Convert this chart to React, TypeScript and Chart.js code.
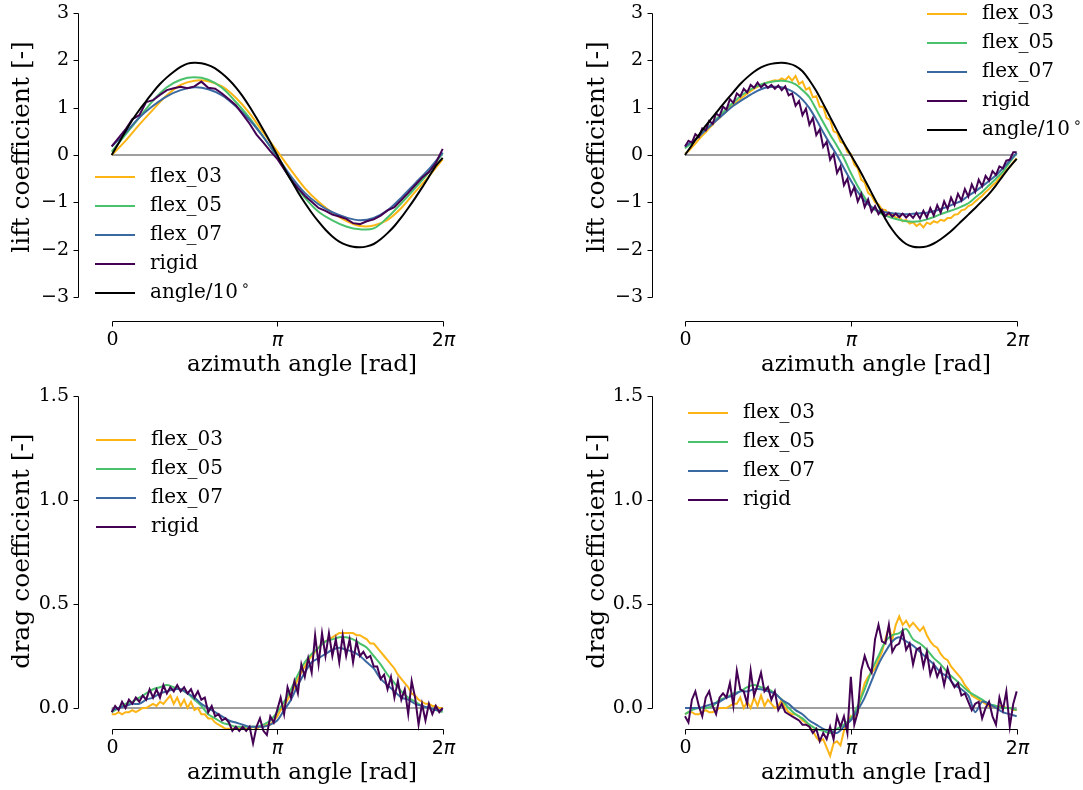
import React, { useEffect, useRef } from "react";
import { Chart, registerables } from "chart.js";

Chart.register(...registerables);

// ---------------- angle grids (degrees) ----------------
const DEG_15 = [0, 15, 30, 45, 60, 75, 90, 105, 120, 135, 150, 165, 180, 195, 210, 225, 240, 255, 270, 285, 300, 315, 330, 345, 360];
const DEG_7_5 = [0, 7.5, 15, 22.5, 30, 37.5, 45, 52.5, 60, 67.5, 75, 82.5, 90, 97.5, 105, 112.5, 120, 127.5, 135, 142.5, 150, 157.5, 165, 172.5, 180, 187.5, 195, 202.5, 210, 217.5, 225, 232.5, 240, 247.5, 255, 262.5, 270, 277.5, 285, 292.5, 300, 307.5, 315, 322.5, 330, 337.5, 345, 352.5, 360];
const DEG_3_75 = [0, 3.75, 7.5, 11.25, 15, 18.75, 22.5, 26.25, 30, 33.75, 37.5, 41.25, 45, 48.75, 52.5, 56.25, 60, 63.75, 67.5, 71.25, 75, 78.75, 82.5, 86.25, 90, 93.75, 97.5, 101.25, 105, 108.75, 112.5, 116.25, 120, 123.75, 127.5, 131.25, 135, 138.75, 142.5, 146.25, 150, 153.75, 157.5, 161.25, 165, 168.75, 172.5, 176.25, 180, 183.75, 187.5, 191.25, 195, 198.75, 202.5, 206.25, 210, 213.75, 217.5, 221.25, 225, 228.75, 232.5, 236.25, 240, 243.75, 247.5, 251.25, 255, 258.75, 262.5, 266.25, 270, 273.75, 277.5, 281.25, 285, 288.75, 292.5, 296.25, 300, 303.75, 307.5, 311.25, 315, 318.75, 322.5, 326.25, 330, 333.75, 337.5, 341.25, 345, 348.75, 352.5, 356.25, 360];
const ZERO_X = [0, 360];
const ZERO_Y = [0, 0];

// ---------------- ticks ----------------
const X_TICKS = [0, 180, 360];
const X_TICK_LABELS = ["0", "π", "2π"];
const LIFT_TICKS = [-3, -2, -1, 0, 1, 2, 3];
const LIFT_TICK_LABELS = ["−3", "−2", "−1", "0", "1", "2", "3"];
const DRAG_TICKS = [0, 0.5, 1.0, 1.5];
const DRAG_TICK_LABELS = ["0.0", "0.5", "1.0", "1.5"];

// ---------------- top-left: lift ----------------
const TL_FLEX03 = [0.00, 0.30, 0.64, 0.96, 1.26, 1.48, 1.57, 1.56, 1.45, 1.21, 0.88, 0.47, 0.08, -0.32, -0.70, -0.99, -1.22, -1.39, -1.50, -1.49, -1.37, -1.12, -0.78, -0.45, -0.09];
const TL_FLEX05 = [0.07, 0.43, 0.79, 1.15, 1.43, 1.59, 1.64, 1.59, 1.42, 1.12, 0.78, 0.38, -0.05, -0.52, -0.90, -1.20, -1.38, -1.51, -1.57, -1.55, -1.32, -1.02, -0.70, -0.36, 0.04];
const TL_FLEX07 = [0.18, 0.47, 0.79, 1.04, 1.24, 1.37, 1.43, 1.39, 1.26, 1.03, 0.74, 0.38, -0.03, -0.45, -0.80, -1.04, -1.21, -1.32, -1.38, -1.33, -1.17, -0.90, -0.60, -0.30, 0.05];
const TL_RIGID = [0.18, 0.36, 0.54, 0.76, 0.84, 1.12, 1.16, 1.27, 1.37, 1.41, 1.44, 1.41, 1.45, 1.55, 1.42, 1.40, 1.30, 1.18, 1.05, 0.86, 0.66, 0.43, 0.26, 0.08, -0.08, -0.30, -0.52, -0.70, -0.86, -0.99, -1.12, -1.18, -1.26, -1.30, -1.35, -1.44, -1.46, -1.40, -1.36, -1.28, -1.17, -1.10, -0.95, -0.80, -0.64, -0.48, -0.36, -0.17, 0.13];
const TL_ANGLE = [0, 0.25, 0.50, 0.74, 0.95, 1.14, 1.33, 1.50, 1.64, 1.76, 1.86, 1.93, 1.95, 1.94, 1.90, 1.83, 1.72, 1.59, 1.43, 1.24, 1.02, 0.78, 0.53, 0.27, 0.00, -0.27, -0.53, -0.78, -1.01, -1.22, -1.41, -1.58, -1.72, -1.83, -1.90, -1.94, -1.95, -1.93, -1.88, -1.78, -1.65, -1.50, -1.32, -1.12, -0.91, -0.69, -0.46, -0.23, -0.06];

// ---------------- top-right: lift ----------------
const TR_FLEX03 = [0.03, 0.08, 0.16, 0.24, 0.33, 0.41, 0.48, 0.57, 0.64, 0.73,
  0.78, 0.87, 0.92, 1.00, 1.06, 1.12, 1.19, 1.24, 1.30, 1.35,
  1.40, 1.44, 1.48, 1.51, 1.54, 1.56, 1.58, 1.57, 1.62, 1.58,
  1.66, 1.57, 1.67, 1.50, 1.55, 1.38, 1.42, 1.22, 1.24, 1.02,
  1.02, 0.78, 0.74, 0.50, 0.47, 0.28, 0.24, 0.06, 0.02, -0.20,
  -0.28, -0.52, -0.58, -0.80, -0.86, -1.00, -1.04, -1.15, -1.16, -1.26,
  -1.25, -1.33, -1.31, -1.40, -1.37, -1.45, -1.42, -1.50, -1.45, -1.53,
  -1.43, -1.46, -1.40, -1.43, -1.37, -1.39, -1.33, -1.33, -1.26, -1.25,
  -1.17, -1.15, -1.08, -1.05, -0.98, -0.92, -0.86, -0.78, -0.72, -0.64,
  -0.58, -0.48, -0.42, -0.32, -0.25, -0.15, -0.07];
const TR_FLEX05 = [0.14, 0.26, 0.39, 0.54, 0.68, 0.83, 0.98, 1.11, 1.24, 1.34, 1.43, 1.49, 1.53, 1.56, 1.57, 1.55, 1.49, 1.37, 1.22, 0.96, 0.69, 0.43, 0.19, -0.07, -0.38, -0.66, -0.90, -1.10, -1.21, -1.28, -1.33, -1.37, -1.40, -1.41, -1.40, -1.36, -1.31, -1.25, -1.20, -1.15, -1.09, -1.02, -0.90, -0.78, -0.64, -0.50, -0.35, -0.15, 0.04];
const TR_FLEX07 = [0.18, 0.28, 0.39, 0.53, 0.66, 0.79, 0.92, 1.04, 1.14, 1.23, 1.32, 1.39, 1.43, 1.44, 1.43, 1.38, 1.30, 1.17, 0.99, 0.75, 0.48, 0.23, -0.01, -0.28, -0.54, -0.78, -0.97, -1.10, -1.18, -1.21, -1.23, -1.24, -1.25, -1.24, -1.23, -1.22, -1.19, -1.14, -1.09, -1.03, -0.97, -0.86, -0.77, -0.66, -0.55, -0.43, -0.28, -0.12, 0.04];
const TR_RIGID = [0.18, 0.30, 0.26, 0.44, 0.38, 0.56, 0.52, 0.72, 0.66, 0.88,
  0.82, 1.02, 0.96, 1.18, 1.10, 1.30, 1.24, 1.40, 1.32, 1.48,
  1.42, 1.53, 1.43, 1.50, 1.42, 1.48, 1.40, 1.47, 1.37, 1.45,
  1.26, 1.30, 1.04, 1.14, 0.84, 0.98, 0.64, 0.78, 0.42, 0.54,
  0.17, 0.28, -0.10, 0.02, -0.38, -0.24, -0.64, -0.50, -0.84, -0.68,
  -0.98, -0.82, -1.10, -0.94, -1.20, -1.08, -1.25, -1.16, -1.29, -1.22,
  -1.30, -1.24, -1.31, -1.24, -1.32, -1.25, -1.33, -1.22, -1.34, -1.18,
  -1.32, -1.12, -1.28, -1.06, -1.22, -0.98, -1.14, -0.90, -1.06, -0.82,
  -0.96, -0.72, -0.88, -0.62, -0.78, -0.52, -0.66, -0.44, -0.54, -0.34,
  -0.42, -0.24, -0.28, -0.12, -0.10, 0.06, 0.06];
const TR_ANGLE = [0.00, 0.21, 0.42, 0.62, 0.80, 0.98, 1.16, 1.33, 1.50, 1.64, 1.76, 1.85, 1.91, 1.94, 1.95, 1.93, 1.88, 1.77, 1.58, 1.35, 1.08, 0.80, 0.52, 0.25, 0.00, -0.25, -0.52, -0.80, -1.08, -1.35, -1.58, -1.76, -1.88, -1.94, -1.95, -1.93, -1.87, -1.78, -1.67, -1.54, -1.40, -1.26, -1.12, -0.97, -0.82, -0.64, -0.44, -0.25, -0.08];

// ---------------- bottom-left: drag ----------------
const BL_FLEX03 = [-0.03, -0.03, -0.02, -0.03, -0.02, -0.02, -0.01, -0.02, -0.01, 0.00,
  0.00, 0.01, 0.02, 0.01, 0.03, 0.02, 0.04, 0.06, 0.02, 0.05,
  0.01, 0.04, 0.00, 0.03, -0.01, 0.00, -0.03, -0.03, -0.05, -0.05,
  -0.07, -0.08, -0.09, -0.10, -0.10, -0.10, -0.10, -0.10, -0.09, -0.10,
  -0.10, -0.09, -0.10, -0.09, -0.09, -0.08, -0.08, -0.06, -0.04, -0.01,
  0.01, 0.04, 0.07, 0.10, 0.14, 0.17, 0.20, 0.23, 0.25, 0.27,
  0.29, 0.31, 0.32, 0.33, 0.34, 0.35, 0.36, 0.36, 0.36, 0.36,
  0.36, 0.35, 0.35, 0.34, 0.33, 0.31, 0.31, 0.29, 0.27, 0.25,
  0.23, 0.21, 0.19, 0.16, 0.14, 0.12, 0.10, 0.07, 0.06, 0.04,
  0.03, 0.02, 0.02, 0.01, 0.01, 0.00, 0.00];
const BL_FLEX05 = [-0.02, 0.00, 0.02, 0.03, 0.05, 0.07, 0.09, 0.10, 0.11, 0.10, 0.09, 0.07, 0.04, 0.01, -0.03, -0.05, -0.07, -0.08, -0.09, -0.09, -0.09, -0.09, -0.08, -0.06, -0.02, 0.03, 0.09, 0.16, 0.22, 0.26, 0.29, 0.32, 0.33, 0.34, 0.34, 0.33, 0.31, 0.29, 0.25, 0.21, 0.16, 0.12, 0.08, 0.05, 0.03, 0.01, 0.00, -0.01, -0.02];
const BL_FLEX07 = [-0.01, 0.00, 0.01, 0.02, 0.02, 0.04, 0.05, 0.07, 0.08, 0.09, 0.09, 0.07, 0.05, 0.02, 0.00, -0.02, -0.04, -0.06, -0.07, -0.08, -0.09, -0.09, -0.09, -0.08, -0.06, -0.01, 0.04, 0.11, 0.17, 0.22, 0.24, 0.26, 0.28, 0.29, 0.28, 0.27, 0.25, 0.22, 0.19, 0.14, 0.11, 0.08, 0.05, 0.04, 0.02, 0.01, 0.00, -0.01, -0.01];
const BL_RIGID = [-0.02, 0.01, -0.01, 0.03, 0.00, 0.04, 0.02, 0.05, 0.03, 0.06,
  0.04, 0.09, 0.05, 0.09, 0.05, 0.11, 0.07, 0.10, 0.08, 0.11,
  0.08, 0.10, 0.07, 0.09, 0.05, 0.08, 0.04, 0.05, -0.02, 0.01,
  -0.04, -0.03, -0.06, -0.05, -0.07, -0.11, -0.09, -0.11, -0.09, -0.11,
  -0.09, -0.17, -0.09, -0.05, -0.11, -0.13, -0.04, -0.07, -0.01, 0.05,
  -0.03, 0.10, 0.05, 0.13, 0.07, 0.21, 0.15, 0.24, 0.17, 0.35,
  0.21, 0.36, 0.25, 0.36, 0.25, 0.33, 0.22, 0.35, 0.25, 0.33,
  0.22, 0.32, 0.25, 0.27, 0.24, 0.25, 0.20, 0.20, 0.14, 0.16,
  0.09, 0.15, 0.05, 0.13, 0.04, 0.09, -0.03, 0.13, 0.05, -0.08,
  0.02, -0.06, 0.02, -0.03, 0.01, -0.02, 0.00];

// ---------------- bottom-right: drag ----------------
const BR_FLEX03 = [-0.03, -0.02, -0.02, -0.03, -0.03, -0.02, -0.01, -0.02, -0.02, -0.01,
  0.00, 0.00, 0.00, 0.01, 0.02, 0.02, 0.05, 0.00, 0.03, 0.00,
  0.05, 0.01, 0.06, 0.01, 0.04, 0.02, 0.00, 0.01, 0.04, 0.00,
  -0.02, -0.03, -0.03, -0.04, -0.06, -0.07, -0.09, -0.11, -0.14, -0.16,
  -0.15, -0.19, -0.23, -0.17, -0.16, -0.18, -0.11, -0.07, -0.04, -0.06,
  -0.02, 0.06, 0.12, 0.15, 0.17, 0.19, 0.23, 0.27, 0.33, 0.39,
  0.33, 0.40, 0.44, 0.40, 0.42, 0.39, 0.41, 0.39, 0.37, 0.39,
  0.35, 0.32, 0.30, 0.29, 0.26, 0.24, 0.23, 0.20, 0.18, 0.16,
  0.14, 0.11, 0.09, 0.06, 0.05, 0.04, 0.03, 0.02, 0.01, 0.01,
  0.00, 0.01, 0.01, 0.00, 0.00, -0.01, -0.01];
const BR_FLEX05 = [-0.03, -0.01, 0.00, 0.00, 0.01, 0.04, 0.05, 0.07, 0.08, 0.10, 0.11, 0.10, 0.09, 0.07, 0.04, 0.00, -0.03, -0.05, -0.08, -0.10, -0.11, -0.12, -0.10, -0.08, -0.05, 0.01, 0.09, 0.18, 0.25, 0.32, 0.35, 0.36, 0.38, 0.33, 0.31, 0.28, 0.24, 0.21, 0.17, 0.14, 0.11, 0.08, 0.06, 0.04, 0.02, 0.01, 0.00, 0.00, -0.01];
const BR_FLEX07 = [0.00, 0.00, 0.00, 0.01, 0.02, 0.03, 0.05, 0.06, 0.08, 0.08, 0.09, 0.09, 0.08, 0.07, 0.04, 0.02, -0.01, -0.03, -0.06, -0.08, -0.10, -0.11, -0.12, -0.09, -0.06, -0.01, 0.05, 0.13, 0.21, 0.27, 0.32, 0.34, 0.32, 0.30, 0.27, 0.24, 0.21, 0.17, 0.15, 0.11, 0.09, 0.06, -0.02, 0.03, 0.02, 0.00, -0.02, -0.03, -0.04];
const BR_RIGID = [-0.04, -0.07, 0.04, 0.08, 0.01, -0.04, 0.05, 0.08, 0.01, -0.03,
  0.05, 0.07, 0.05, 0.12, 0.01, 0.18, 0.09, 0.08, 0.02, 0.18,
  0.06, 0.11, 0.17, 0.08, 0.10, 0.04, 0.08, -0.01, 0.02, -0.02,
  -0.03, -0.04, -0.05, -0.06, -0.08, -0.08, -0.09, -0.12, -0.10, -0.16,
  -0.12, -0.15, -0.09, -0.15, -0.04, -0.09, -0.04, -0.12,
  0.15, -0.08, -0.02, 0.18, 0.25, 0.20, 0.17, 0.33, 0.40, 0.32,
  0.31, 0.40, 0.27, 0.30, 0.31, 0.37, 0.28, 0.31, 0.21, 0.28,
  0.29, 0.20, 0.27, 0.16, 0.21, 0.15, 0.19, 0.11, 0.19, 0.13,
  0.10, 0.12, 0.06, 0.07, 0.03, -0.01, 0.02, 0.03, -0.05, 0.00,
  0.03, -0.04, -0.08, 0.05, -0.01, 0.08, -0.09, 0.02, 0.08];

// ---------------- style ----------------
const C_FLEX03 = "#fdb515";
const C_FLEX05 = "#4ac26c";
const C_FLEX07 = "#3a68a0";
const C_RIGID = "#440154";
const C_ANGLE = "#000000";
const C_ZERO = "#7f7f7f";
const SERIF = '"DejaVu Serif", serif';
const SANS = '"DejaVu Sans", sans-serif';

type Series = { label: string; color: string; x: number[]; y: number[]; tension: number; width: number; legend: boolean };
const S = (label: string, color: string, x: number[], y: number[], tension = 0, width = 2, legend = true): Series =>
  ({ label, color, x, y, tension, width, legend });

type Panel = {
  key: string;
  area: { left: number; right: number; top: number; bottom: number };
  yMin: number; yMax: number;
  yTicks: number[]; yTickLabels: string[]; yTitle: string;
  ySpineOffset: number; xSpineOffset: number;
  yTitleX: number; yTitleY: number; xTitleX: number; xTitleY: number;
  legend: { x: number; y: number; step: number };
  series: Series[]; // in matplotlib plotting order (first = bottom)
};

const PANELS: Panel[] = [
  {
    key: "tl",
    area: { left: 111.7, right: 442.7, top: 13, bottom: 297 },
    yMin: -3, yMax: 3, yTicks: LIFT_TICKS, yTickLabels: LIFT_TICK_LABELS, yTitle: "lift coefficient [-]",
    ySpineOffset: 33.7, xSpineOffset: 24, yTitleX: 22, yTitleY: 147, xTitleX: 302, xTitleY: 365,
    legend: { x: 95, y: 177, step: 29 },
    series: [
      S("zero", C_ZERO, ZERO_X, ZERO_Y, 0, 1.5, false),
      S("flex_03", C_FLEX03, DEG_15, TL_FLEX03, 0.35),
      S("flex_05", C_FLEX05, DEG_15, TL_FLEX05, 0.35),
      S("flex_07", C_FLEX07, DEG_15, TL_FLEX07, 0.35),
      S("rigid", C_RIGID, DEG_7_5, TL_RIGID, 0),
      S("angle/10^∘", C_ANGLE, DEG_7_5, TL_ANGLE, 0.3),
    ],
  },
  {
    key: "tr",
    area: { left: 685, right: 1016.7, top: 13, bottom: 297 },
    yMin: -3, yMax: 3, yTicks: LIFT_TICKS, yTickLabels: LIFT_TICK_LABELS, yTitle: "lift coefficient [-]",
    ySpineOffset: 33.3, xSpineOffset: 24, yTitleX: 597, yTitleY: 147, xTitleX: 876, xTitleY: 365,
    legend: { x: 927, y: 14, step: 29 },
    series: [
      S("zero", C_ZERO, ZERO_X, ZERO_Y, 0, 1.5, false),
      S("flex_03", C_FLEX03, DEG_3_75, TR_FLEX03, 0),
      S("flex_05", C_FLEX05, DEG_7_5, TR_FLEX05, 0.3),
      S("flex_07", C_FLEX07, DEG_7_5, TR_FLEX07, 0.3),
      S("rigid", C_RIGID, DEG_3_75, TR_RIGID, 0),
      S("angle/10^∘", C_ANGLE, DEG_7_5, TR_ANGLE, 0.3),
    ],
  },
  {
    key: "bl",
    area: { left: 111.7, right: 442.7, top: 396, bottom: 708 },
    yMin: 0, yMax: 1.5, yTicks: DRAG_TICKS, yTickLabels: DRAG_TICK_LABELS, yTitle: "drag coefficient [-]",
    ySpineOffset: 33.4, xSpineOffset: 21, yTitleX: 22, yTitleY: 551, xTitleX: 302, xTitleY: 773,
    legend: { x: 96, y: 440, step: 29 },
    series: [
      S("zero", C_ZERO, ZERO_X, ZERO_Y, 0, 1.5, false),
      S("flex_03", C_FLEX03, DEG_3_75, BL_FLEX03, 0),
      S("flex_05", C_FLEX05, DEG_7_5, BL_FLEX05, 0.3),
      S("flex_07", C_FLEX07, DEG_7_5, BL_FLEX07, 0.3),
      S("rigid", C_RIGID, DEG_3_75, BL_RIGID, 0),
    ],
  },
  {
    key: "br",
    area: { left: 685, right: 1016.7, top: 396, bottom: 708 },
    yMin: 0, yMax: 1.5, yTicks: DRAG_TICKS, yTickLabels: DRAG_TICK_LABELS, yTitle: "drag coefficient [-]",
    ySpineOffset: 33.3, xSpineOffset: 21, yTitleX: 597, yTitleY: 551, xTitleX: 876, xTitleY: 773,
    legend: { x: 688, y: 413, step: 29 },
    series: [
      S("zero", C_ZERO, ZERO_X, ZERO_Y, 0, 1.5, false),
      S("flex_03", C_FLEX03, DEG_3_75, BR_FLEX03, 0),
      S("flex_05", C_FLEX05, DEG_7_5, BR_FLEX05, 0.3),
      S("flex_07", C_FLEX07, DEG_7_5, BR_FLEX07, 0.3),
      S("rigid", C_RIGID, DEG_3_75, BR_RIGID, 0),
    ],
  },
];

const W = 1083;
const H = 790;

function drawLabelWithSup(ctx: CanvasRenderingContext2D, text: string, x: number, y: number) {
  const parts = text.split("^");
  ctx.font = `20px ${SERIF}`;
  ctx.textAlign = "left";
  ctx.textBaseline = "middle";
  ctx.fillText(parts[0], x, y);
  if (parts.length > 1) {
    const w = ctx.measureText(parts[0]).width;
    ctx.font = `14px ${SANS}`;
    ctx.fillText(parts[1], x + w + 3, y - 7);
  }
}

function drawXTickLabel(ctx: CanvasRenderingContext2D, label: string, cx: number, top: number) {
  ctx.textBaseline = "top";
  ctx.textAlign = "left";
  if (label.indexOf("π") < 0) {
    ctx.font = `19px ${SERIF}`;
    const w = ctx.measureText(label).width;
    ctx.fillText(label, cx - w / 2, top);
    return;
  }
  const pre = label.replace("π", "");
  ctx.font = `19px ${SANS}`;
  const w1 = ctx.measureText(pre).width;
  ctx.font = `italic 19px ${SANS}`;
  const w2 = ctx.measureText("π").width;
  const start = cx - (w1 + w2) / 2;
  ctx.font = `19px ${SANS}`;
  if (pre) ctx.fillText(pre, start, top + 1);
  ctx.font = `italic 19px ${SANS}`;
  ctx.fillText("π", start + w1, top + 1);
}

const mplAxes = {
  id: "mplAxes",
  afterDatasetsDraw(chart: any, _args: any, o: any) {
    const ctx: CanvasRenderingContext2D = chart.ctx;
    const xs = chart.scales.x;
    const ys = chart.scales.y;
    const ca = chart.chartArea;
    ctx.save();
    ctx.strokeStyle = "#000";
    ctx.fillStyle = "#000";
    ctx.lineWidth = 1;

    // y spine (trimmed to tick range, offset outward)
    const yT: number[] = o.yTicks;
    const sx = Math.round(ca.left - o.ySpineOffset) + 0.5;
    ctx.beginPath();
    ctx.moveTo(sx, Math.round(ys.getPixelForValue(yT[yT.length - 1])) + 0.5);
    ctx.lineTo(sx, Math.round(ys.getPixelForValue(yT[0])) + 0.5);
    ctx.stroke();
    ctx.font = `19px ${SERIF}`;
    ctx.textAlign = "right";
    ctx.textBaseline = "middle";
    yT.forEach((v, i) => {
      const py = Math.round(ys.getPixelForValue(v)) + 0.5;
      ctx.beginPath();
      ctx.moveTo(sx, py);
      ctx.lineTo(sx - 5, py);
      ctx.stroke();
      ctx.fillText(o.yTickLabels[i], sx - 9.5, py);
    });

    // x spine
    const sy = Math.round(ca.bottom + o.xSpineOffset) + 0.5;
    ctx.beginPath();
    ctx.moveTo(Math.round(xs.getPixelForValue(X_TICKS[0])) + 0.5, sy);
    ctx.lineTo(Math.round(xs.getPixelForValue(X_TICKS[X_TICKS.length - 1])) + 0.5, sy);
    ctx.stroke();
    X_TICKS.forEach((v, i) => {
      const px = Math.round(xs.getPixelForValue(v)) + 0.5;
      ctx.beginPath();
      ctx.moveTo(px, sy);
      ctx.lineTo(px, sy + 5);
      ctx.stroke();
      drawXTickLabel(ctx, X_TICK_LABELS[i], px, sy + 9);
    });

    // axis titles
    ctx.textAlign = "center";
    ctx.textBaseline = "middle";
    ctx.font = `23px ${SERIF}`;
    ctx.fillText("azimuth angle [rad]", o.xTitleX, o.xTitleY);
    ctx.save();
    ctx.font = `25px ${SERIF}`;
    ctx.translate(o.yTitleX, o.yTitleY);
    ctx.rotate(-Math.PI / 2);
    ctx.fillText(o.yTitle, 0, 0);
    ctx.restore();

    // legend
    const items = chart.data.datasets.filter((d: any) => d.inLegend).reverse();
    items.forEach((d: any, i: number) => {
      const y = o.legend.y + i * o.legend.step;
      ctx.strokeStyle = d.borderColor;
      ctx.lineWidth = 2;
      ctx.beginPath();
      ctx.moveTo(o.legend.x, y);
      ctx.lineTo(o.legend.x + 40, y);
      ctx.stroke();
      ctx.fillStyle = "#000";
      drawLabelWithSup(ctx, d.label, o.legend.x + 55, y);
    });
    ctx.restore();
  },
};

function PanelChart({ panel }: { panel: Panel }) {
  const ref = useRef<HTMLCanvasElement | null>(null);
  useEffect(() => {
    if (!ref.current) return;
    // Chart.js draws dataset 0 on top, so reverse matplotlib order
    const datasets = [...panel.series].reverse().map((s) => ({
      label: s.label,
      data: s.x.map((x, i) => ({ x, y: s.y[i] })),
      borderColor: s.color,
      backgroundColor: s.color,
      borderWidth: s.width,
      pointRadius: 0,
      tension: s.tension,
      fill: false,
      clip: false as any,
      inLegend: s.legend,
    }));
    const chart = new Chart(ref.current, {
      type: "line",
      data: { datasets: datasets as any },
      options: {
        responsive: false,
        animation: false,
        devicePixelRatio: 1,
        layout: {
          padding: {
            left: panel.area.left,
            right: W - panel.area.right,
            top: panel.area.top,
            bottom: H - panel.area.bottom,
          },
        },
        scales: {
          x: { type: "linear", min: 0, max: 360, display: false },
          y: { type: "linear", min: panel.yMin, max: panel.yMax, display: false },
        },
        plugins: {
          legend: { display: false },
          tooltip: { enabled: false },
          mplAxes: {
            yTicks: panel.yTicks,
            yTickLabels: panel.yTickLabels,
            yTitle: panel.yTitle,
            ySpineOffset: panel.ySpineOffset,
            xSpineOffset: panel.xSpineOffset,
            yTitleX: panel.yTitleX,
            yTitleY: panel.yTitleY,
            xTitleX: panel.xTitleX,
            xTitleY: panel.xTitleY,
            legend: panel.legend,
          },
        } as any,
        events: [],
      },
      plugins: [mplAxes],
    });
    return () => chart.destroy();
  }, [panel]);
  return (
    <canvas
      ref={ref}
      width={W}
      height={H}
      style={{ position: "absolute", left: 0, top: 0, width: W, height: H, pointerEvents: "none" }}
    />
  );
}

export default function App() {
  useEffect(() => {
    document.body.style.margin = "0";
  }, []);
  return (
    <div style={{ position: "fixed", left: 0, top: 0, width: W, height: H, background: "#ffffff", overflow: "hidden" }}>
      {PANELS.map((p) => (
        <PanelChart key={p.key} panel={p} />
      ))}
    </div>
  );
}
